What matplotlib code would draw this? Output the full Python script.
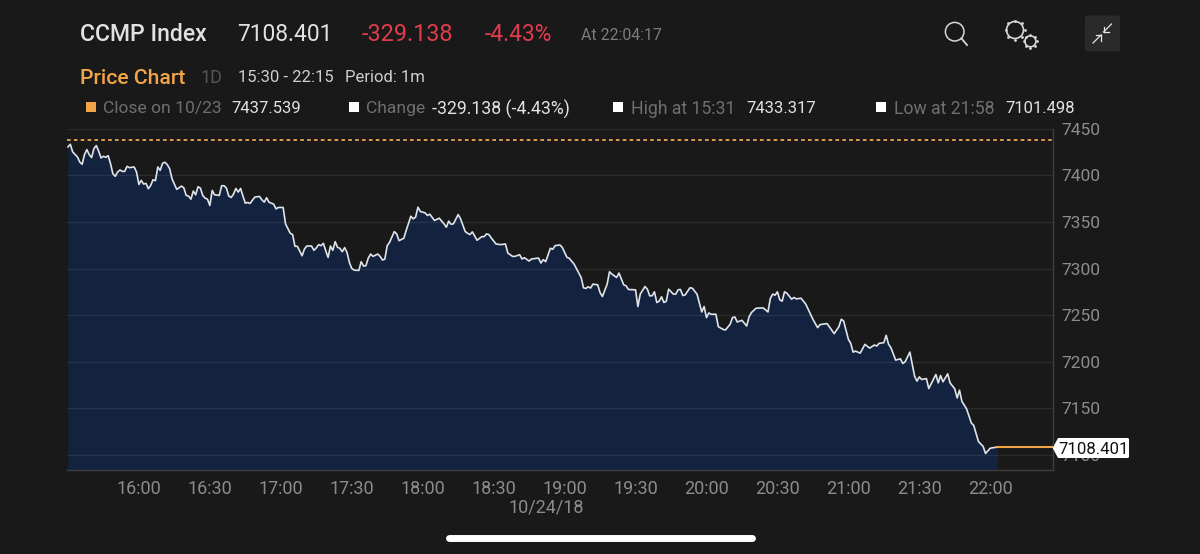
import numpy as np
import matplotlib
matplotlib.use('Agg')
import matplotlib.pyplot as plt
from matplotlib.patches import Circle, FancyBboxPatch, Polygon, Rectangle

# minutes after 15:30 and index level
minutes = [0,1,2,4,5,6,7,8,9,10,11,12,13,14,15,16,17,18,19,20,21,22,23,24,25,26,28,29,30,31,32,33,34,35,36,37,38,39,40,41,42,43,44,46,48,49,50,51,52,53,54,55,56,57,58,59,60,61,62,64,65,66,67,68,69,70,71,72,73,74,75,76,77,79,81,82,83,84,85,87,88,89,91,92,94,95,96,97,99,100,101,103,104,105,106,107,108,109,110,111,112,113,114,115,116,117,118,119,120,121,123,124,125,126,127,128,129,131,132,133,134,135,136,138,139,140,
           142,143,145,146,147,148,149,151,152,153,155,157,159,160,161,162,163,165,166,168,169,170,171,173,175,176,177,178,179,181,183,185,186,188,189,191,192,193,195,196,199,200,201,202,204,205,206,208,209,211,212,214,217,218,219,220,221,222,224,225,226,228,229,230,232,233,235,236,237,240,241,242,244,245,246,247,248,249,250,251,252,253,254,256,257,258,259,260,261,263,264,266,268,269,270,271,272,274,275,
           277,278,280,281,282,283,285,287,288,289,291,294,296,297,298,299,300,301,302,303,304,306,307,308,310,312,315,317,318,321,324,326,327,328,330,331,332,333,335,337,339,341,342,343,345,346,347,348,350,352,353,354,356,358,359,360,361,363,364,367,368,369,370,372,373,375,376,377,378,380,382,383,385,387,388,390,393]
prices = [7430.5,7433.3,7425.1,7419.7,7414.3,7411.8,7422.2,7427.6,7422.2,7419.0,7428.7,7431.9,7425.8,7418.6,7420.4,7419.3,7421.1,7412.5,7401.7,7398.9,7403.5,7405.7,7404.2,7404.2,7409.6,7408.2,7408.9,7403.5,7390.2,7394.5,7390.6,7391.3,7385.6,7389.2,7395.3,7394.2,7408.9,7405.3,7412.9,7414.0,7411.4,7407.1,7396.3,7384.9,7388.4,7386.6,7378.4,7377.7,7374.4,7383.1,7379.1,7387.7,7386.3,7378.4,7375.5,7374.4,7367.6,7383.8,7379.1,7378.4,7388.8,7388.8,7386.3,7377.7,7376.2,7379.8,7385.9,7382.0,7385.9,7377.7,7370.1,7370.8,7369.8,7376.6,7377.3,7373.7,7371.2,7375.9,7371.2,7369.0,7364.0,7365.5,7365.5,7347.9,7337.8,7336.4,7323.8,7323.8,7313.7,7320.9,7324.1,7324.1,7319.5,7322.0,7325.6,7324.5,7327.0,7319.1,7311.9,7324.1,7319.5,7328.8,7322.7,7321.6,7318.0,7322.4,7317.3,7306.5,7300.1,7298.3,7297.9,7307.3,7302.6,7303.0,7311.2,7315.5,7313.0,7315.5,7313.0,7309.1,7310.1,7324.5,7328.1,7339.6,7337.1,7329.9,
          7332.4,7340.7,7356.1,7353.3,7355.1,7365.8,7361.2,7359.7,7356.9,7358.3,7351.5,7354.0,7347.9,7344.3,7350.8,7347.5,7347.9,7357.9,7353.3,7339.6,7337.8,7336.4,7339.3,7330.3,7334.2,7334.2,7337.1,7336.4,7332.8,7326.3,7325.6,7326.3,7316.6,7313.0,7313.0,7314.8,7310.2,7311.6,7308.0,7310.2,7311.2,7305.9,7309.5,7307.3,7321.7,7320.6,7324.5,7325.3,7322.7,7312.0,7310.9,7304.8,7290.4,7279.3,7278.6,7280.4,7279.0,7283.2,7282.5,7274.2,7269.9,7283.2,7296.5,7294.0,7290.4,7295.1,7282.5,7281.4,7277.5,7277.1,7259.2,7272.5,7280.7,7277.8,7270.7,7270.7,7275.0,7263.5,7264.9,7269.6,7263.5,7264.9,7277.8,7272.5,7272.5,7277.1,7277.5,7271.0,7271.7,7279.3,7278.9,7272.5,7253.4,7259.2,7247.3,7252.3,7250.9,7250.9,7237.6,
          7234.7,7234.0,7240.1,7247.3,7248.0,7242.6,7244.4,7238.3,7248.0,7252.7,7257.4,7257.7,7253.4,7267.8,7272.5,7271.4,7275.0,7266.4,7264.9,7275.0,7273.5,7267.1,7268.9,7267.4,7268.1,7261.7,7245.5,7236.5,7239.8,7240.9,7230.1,7237.6,7245.5,7243.7,7224.0,7219.7,7210.3,7211.4,7209.2,7218.6,7214.6,7217.9,7216.8,7219.7,7220.4,7228.3,7218.6,7215.0,7201.7,7203.1,7198.1,7199.9,7210.3,7184.5,7179.1,7183.7,7180.9,7181.9,7171.2,7186.3,7177.3,7185.2,7178.4,7187.0,7177.3,7170.8,7161.1,7169.4,7157.5,7149.3,7134.2,7131.7,7114.4,7109.0,7101.5,7107.2,7108.4]
prev_close = 7437.539
last_price = 7108.401

y_ticks = [7100, 7150, 7200, 7250, 7300, 7350, 7400, 7450]
x_ticks = [30, 60, 90, 120, 150, 180, 210, 240, 270, 300, 330, 360, 390]
x_labels = ['16:00', '16:30', '17:00', '17:30', '18:00', '18:30', '19:00', '19:30',
            '20:00', '20:30', '21:00', '21:30', '22:00']

BG = '#191919'
ORANGE = '#f0a548'
RED = '#e03c4c'
GREY = '#6f6f6f'
TICK = '#8c8c8c'
LIGHT = '#e2e2e2'
ICON = '#d8d8d8'

plt.rcParams['font.family'] = ['Roboto', 'DejaVu Sans']

fig = plt.figure(figsize=(12, 5.54), dpi=100, facecolor=BG)
ax = fig.add_axes([67 / 1200, 1 - 470 / 554, (1052.7 - 67) / 1200, (470 - 128.7) / 554], facecolor=BG)

ax.fill_between(minutes, prices, 7000, color='#13233f', lw=0, zorder=1)
ax.set_yticks(y_ticks)
ax.set_xticks(x_ticks, x_labels)
ax.yaxis.grid(True, color='white', alpha=0.08, lw=1, zorder=2)
ax.set_axisbelow(False)
ax.plot(minutes, prices, color='#dfe3ea', lw=1.2, zorder=3, solid_joinstyle='round')
ax.axhline(prev_close, color=ORANGE, lw=1.3, ls=(0, (2, 1.8)), zorder=3)
ax.plot([minutes[-1], 416.4], [last_price, last_price], color=ORANGE, lw=1.5, zorder=3)
ax.set_xlim(-0.4, 416.4)
ax.set_ylim(7083.8, 7450)
ax.yaxis.tick_right()
ax.tick_params(axis='y', length=0, pad=6, labelsize=12.5, labelcolor=TICK)
ax.tick_params(axis='x', length=0, pad=7, labelsize=13, labelcolor=TICK)
for t in ax.get_yticklabels():
    t.set_va('center_baseline')
for s in ['top', 'left']:
    ax.spines[s].set_visible(False)
for s in ['right', 'bottom']:
    ax.spines[s].set_color('#3d3d3d')
    ax.spines[s].set_linewidth(1)

# overlay in pixel coordinates for the app header, icons and price tag
ov = fig.add_axes([0, 0, 1, 1], facecolor='none', zorder=5)
ov.set_xlim(0, 1200)
ov.set_ylim(554, 0)
ov.axis('off')


def label(x, y, s, color, size, **kw):
    ov.text(x, y, s, color=color, fontsize=size, va='center_baseline', **kw)


label(80, 32, 'CCMP Index', LIGHT, 16.6, fontweight='medium')
label(237, 32, '7108.401', LIGHT, 16.4)
label(362, 32, '-329.138', RED, 16.8)
label(485, 32, '-4.43%', RED, 16.4)
label(581, 34, 'At 22:04:17', '#7c7c7c', 11.4)
label(80, 76, 'Price Chart', ORANGE, 15.2, fontweight='medium')
label(201, 76, '1D', '#555555', 13)
label(238, 76, '15:30 - 22:15', '#cfcfcf', 12)
label(345, 76, 'Period: 1m', '#cfcfcf', 12)

squares = [(86, ORANGE), (349, 'white'), (613, 'white'), (876, 'white')]
for x, c in squares:
    ov.add_patch(Rectangle((x, 102), 10, 10, color=c, lw=0))

label(103, 107, 'Close on 10/23', GREY, 12.6)
label(231, 107, '7437.539', LIGHT, 12)
label(366, 107, 'Change', GREY, 12.6)
label(432, 107, '-329.138 (-4.43%)', LIGHT, 12.7)
label(631, 107, 'High at 15:31', GREY, 12.7)
label(746, 107, '7433.317', LIGHT, 12)
label(894, 107, 'Low at 21:58', GREY, 12.7)
label(1005, 107, '7101.498', LIGHT, 12)

label(546, 506, '10/24/18', TICK, 13, ha='center')

# search icon
ov.add_patch(Circle((954.7, 31.7), 9.3, fill=False, ec=ICON, lw=1.1))
ov.plot([961.5, 967], [38.5, 45], color=ICON, lw=1.3)

# settings icon
for cx, cy, r in [(1015, 30, 8.5), (1030.4, 41.3, 5.5)]:
    ov.add_patch(Circle((cx, cy), r, fill=False, ec=ICON, lw=1.2))
    ang = np.arange(8) * np.pi / 4
    ov.scatter(cx + (r + 1) * np.cos(ang), cy + (r + 1) * np.sin(ang), s=4, marker='o', color=ICON, lw=0)

# collapse button
ov.add_patch(FancyBboxPatch((1087, 17.5), 31, 32, boxstyle='round,pad=2,rounding_size=2', fc='#2a2a2a', ec='none'))
for xs, ys in [([1111.5, 1103.5], [24, 32]), ([1103.5, 1103.5], [26.5, 32]), ([1103.5, 1109], [32, 32]),
               ([1093, 1101], [43, 35]), ([1101, 1101], [35, 40.5]), ([1101, 1095.5], [35, 35])]:
    ov.plot(xs, ys, color='#e6e6e6', lw=0.9)

# price tag
ov.add_patch(Polygon([(1052.7, 448), (1058, 438), (1128, 438), (1129, 439), (1129, 457), (1128, 458), (1058, 458)],
                     closed=True, fc='white', ec='none'))
label(1058, 448.5, '7108.401', '#111111', 12.1)

# home indicator
ov.plot([449, 752], [537.5, 537.5], color='white', lw=5, solid_capstyle='round')

fig.savefig('out.png', dpi=100, facecolor=BG)
